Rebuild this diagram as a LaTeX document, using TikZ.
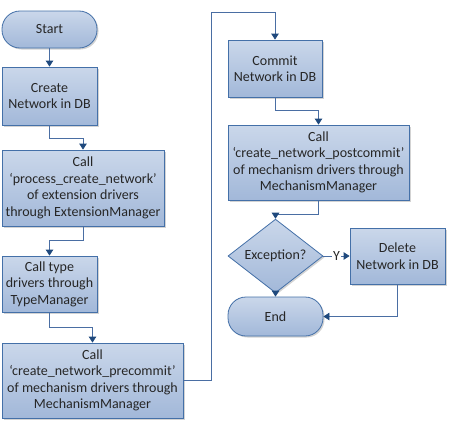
\documentclass[tikz,border=0pt]{standalone}
\usepackage{fontspec}
\setmainfont{Carlito}
\usepackage{tikz}
\usetikzlibrary{arrows.meta,positioning,shapes.geometric,shadows}
\definecolor{boxline}{HTML}{4470A8}
\definecolor{boxtop}{HTML}{CAD7EA}
\definecolor{boxbottom}{HTML}{A2B8D9}
\definecolor{flowline}{HTML}{4A6EA3}
\definecolor{tipcol}{HTML}{1F497D}

\begin{document}
\begin{tikzpicture}
		[x=1pt, y=-1pt, inner sep=0pt,
		font=\fontsize{14}{16.5}\selectfont,
		every node/.style	= {text=black!85},
		step box/.style		= {draw=boxline, thick, rectangle, top color=boxtop, bottom color=boxbottom, align=center,
							   drop shadow={shadow xshift=1.5pt, shadow yshift=-1.5pt, opacity=.35}},
		terminal/.style		= {step box, rounded corners=18pt, minimum width=95pt, minimum height=37pt},
		decision/.style		= {step box, diamond, minimum width=95pt, minimum height=56pt},
		flow/.style			= {draw=flowline, line width=.8pt, -{Triangle[width=7.5pt,length=6pt,fill=tipcol,color=tipcol]}}]
		
		\useasboundingbox (0,0) rectangle (450,423);
		
		% left column
		\node [terminal]	at (49.5,29.5)							(start)		{Start};
		\node [step box, minimum width=95pt, minimum height=58pt]	at (49.5,96)		(create)		{Create\\Network in DB};
		\node [step box, minimum width=162pt, minimum height=76pt]	at (83,188)			(process)		{Call\\‘process\_create\_network’\\of extension drivers\\through ExtensionManager};
		\node [step box, minimum width=95pt, minimum height=56pt]	at (49.5,284)		(type)			{Call type\\drivers through\\TypeManager};
		\node [step box, minimum width=181pt, minimum height=75pt]	at (92.5,380.5)		(precommit)		{Call\\‘create\_network\_precommit’\\of mechanism drivers through\\MechanismManager};
		
		% right column
		\node [step box, minimum width=94pt, minimum height=57pt]	at (275,68.5)		(commit)		{Commit\\Network in DB};
		\node [step box, minimum width=181pt, minimum height=75pt]	at (318.5,162.5)	(postcommit)	{Call\\‘create\_network\_postcommit’\\of mechanism drivers through\\MechanismManager};
		\node [decision]	at (275.5,256)							(exception)		{Exception?};
		\node [step box, minimum width=95pt, minimum height=56pt]	at (397.5,256)		(delete)		{Delete\\Network in DB};
		\node [terminal, minimum height=39pt]	at (275.5,316.5)	(end)			{End};
		
		\coordinate (jump) at (211,12);
		
		% connectors
		\draw [flow] (start) -- (create);
		\draw [flow] (create.south) -- ++(0,13) -| (process.north);
		\draw [flow] (process.south) -- ++(0,14) -| (type.north);
		\draw [flow] (type.south) -- ++(0,15) -| (precommit.north);
		\draw [flow] (precommit.east) -| (jump) -| (commit.north);
		\draw [flow] (commit.south) -- ++(0,13) -| (postcommit.north);
		\draw [flow] (postcommit.south) -- ++(0,14) -| (exception.north);
		\draw [flow] (exception.east) -- node [fill=white, inner sep=1pt] (yes) {Y} (delete.west);
		\draw [flow] (exception.south) -- (end.north);
		\draw [flow] (delete.south) |- (end.east);
		\end{tikzpicture}
\end{document}
